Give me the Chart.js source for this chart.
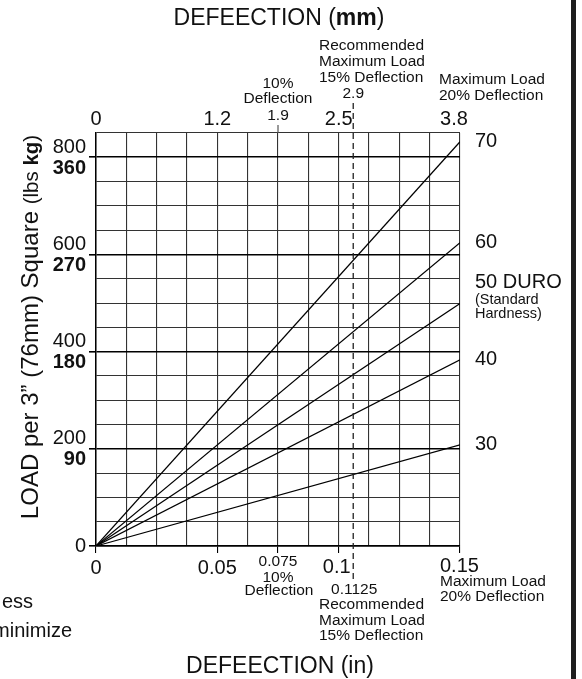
<!DOCTYPE html>
<html>
<head>
<meta charset="utf-8">
<script src="https://cdn.jsdelivr.net/npm/chart.js@4.4.1/dist/chart.umd.min.js"></script>
<style>
  html, body { margin: 0; padding: 0; background: #fff; }
  #wrap { width: 582px; height: 679px; }
</style>
</head>
<body>
<div id="wrap"><canvas id="loadChart" width="582" height="679"></canvas></div>
<script>
// deflection (in) at both ends of each duro line
var deflection = [0, 0.15];
var duro70 = [0, 832];
var duro60 = [0, 624];
var duro50 = [0, 499];
var duro40 = [0, 383];
var duro30 = [0, 208];

var duroLabels = ['70', '60', '50 DURO', '40', '30'];

// bottom axis (in) and top axis (mm)
var inTicks = [0, 0.05, 0.1, 0.15];
var inLabels = ['0', '0.05', '0.1', '0.15'];
var mmTicks = [0, 0.05, 0.1, 0.15];
var mmLabels = ['0', '1.2', '2.5', '3.8'];

// left axis: lbs / kg
var loadTicks = [0, 200, 400, 600, 800];
var lbsLabels = ['0', '200', '400', '600', '800'];
var kgLabels = ['', '90', '180', '270', '360'];

// marker lines
var tenPct = 0.075;
var recommendedLine = 0.106;

var FONT = '"Liberation Sans", Arial, sans-serif';

function isMajorLoad(v) {
    return Math.round(v) % 200 === 0;
}

function isTickIn(v) {
    var r = Math.round(v * 10000);
    return r === 0 || r === 500 || r === 750 || r === 1000 || r === 1500;
}

function txt(ctx, s, x, y, size, align, weight) {
    ctx.font = (weight || 'normal') + ' ' + size + 'px ' + FONT;
    ctx.textAlign = align || 'center';
    ctx.textBaseline = 'middle';
    ctx.fillText(s, x, y);
}

// draws a row of pieces [text, size, weight] centred on x
function mixed(ctx, pieces, x, y) {
    var total = 0;
    pieces.forEach(function (p) {
        ctx.font = p[2] + ' ' + p[1] + 'px ' + FONT;
        p.w = ctx.measureText(p[0]).width;
        total += p.w;
    });
    var cx = x - total / 2;
    pieces.forEach(function (p) {
        ctx.font = p[2] + ' ' + p[1] + 'px ' + FONT;
        ctx.textAlign = 'left';
        ctx.textBaseline = 'alphabetic';
        ctx.fillText(p[0], cx, y);
        cx += p.w;
    });
}

var labelsPlugin = {
    id: 'labelsPlugin',
    afterDraw: function (chart) {
        var ctx = chart.ctx;
        var xs = chart.scales.x;
        var ys = chart.scales.y;
        var area = chart.chartArea;
        ctx.save();
        ctx.fillStyle = '#111';

        // recommended max load (dashed)
        var dx = xs.getPixelForValue(recommendedLine);
        ctx.strokeStyle = '#222';
        ctx.lineWidth = 1.3;
        ctx.setLineDash([6, 4]);
        ctx.beginPath();
        ctx.moveTo(dx, 103);
        ctx.lineTo(dx, 579);
        ctx.stroke();
        ctx.setLineDash([]);

        // small tick above the plot at 10%
        var tx = xs.getPixelForValue(tenPct);
        ctx.strokeStyle = '#555';
        ctx.lineWidth = 1.2;
        ctx.beginPath();
        ctx.moveTo(tx, area.top);
        ctx.lineTo(tx, area.top - 8);
        ctx.stroke();

        // titles
        mixed(ctx, [['DEFEECTION (', 23, 'normal'], ['mm', 23, 'bold'], [')', 23, 'normal']], 279, 25);
        mixed(ctx, [['DEFEECTION (in)', 23, 'normal']], 280, 673);

        // top axis (mm)
        mmTicks.forEach(function (v, i) {
            var x = xs.getPixelForValue(v);
            if (i === mmTicks.length - 1) x -= 6;
            txt(ctx, mmLabels[i], x, 119, 20);
        });
        txt(ctx, '1.9', tx, 116, 15.5);
        txt(ctx, '10%', tx, 84, 15.5);
        txt(ctx, 'Deflection', tx, 99, 15.5);
        txt(ctx, '2.9', dx, 94, 15.5);
        txt(ctx, 'Recommended', 319, 46, 15.5, 'left');
        txt(ctx, 'Maximum Load', 319, 62, 15.5, 'left');
        txt(ctx, '15% Deflection', 319, 78, 15.5, 'left');
        txt(ctx, 'Maximum Load', 439, 80, 15.5, 'left');
        txt(ctx, '20% Deflection', 439, 96, 15.5, 'left');

        // bottom axis (in)
        inTicks.forEach(function (v, i) {
            var x = xs.getPixelForValue(v);
            if (i === 2) txt(ctx, inLabels[i], x - 2, 567, 20);
            else if (i === 3) txt(ctx, inLabels[i], x - 20, 566, 20, 'left');
            else txt(ctx, inLabels[i], x, 568, 20);
        });
        txt(ctx, '0.075', tx, 562, 15.5);
        txt(ctx, '10%', tx, 578, 15.5);
        txt(ctx, 'Deflection', tx + 1, 591, 15.5);
        txt(ctx, '0.1125', dx + 1, 590, 15.5);
        txt(ctx, 'Recommended', 319, 605, 15.5, 'left');
        txt(ctx, 'Maximum Load', 319, 621, 15.5, 'left');
        txt(ctx, '15% Deflection', 319, 636, 15.5, 'left');
        txt(ctx, 'Maximum Load', 440, 582, 15.5, 'left');
        txt(ctx, '20% Deflection', 440, 597, 15.5, 'left');

        // left axis labels
        loadTicks.forEach(function (v, i) {
            var y = ys.getPixelForValue(v);
            if (v === 0) {
                txt(ctx, lbsLabels[i], 86, y, 20, 'right');
                return;
            }
            txt(ctx, lbsLabels[i], 86, y - 10, 20, 'right');
            txt(ctx, kgLabels[i], 86, y + 11, 20, 'right', 'bold');
        });

        // y title
        ctx.save();
        ctx.translate(38, 327);
        ctx.rotate(-Math.PI / 2);
        mixed(ctx, [['LOAD per 3\u201D (76mm) Square ', 24, 'normal'], ['(lbs ', 20.5, 'normal'], ['kg', 20.5, 'bold'], [')', 20.5, 'normal']], 0, 0);
        ctx.restore();

        // duro labels at line ends
        var ends = [duro70, duro60, duro50, duro40, duro30];
        ends.forEach(function (d, i) {
            var y = ys.getPixelForValue(d[d.length - 1]);
            var x = xs.getPixelForValue(deflection[deflection.length - 1]) + 15;
            if (i === 2) {
                txt(ctx, duroLabels[i], x, y - 21, 20, 'left');
                txt(ctx, '(Standard', x, y - 4, 14.5, 'left');
                txt(ctx, 'Hardness)', x, y + 10, 14.5, 'left');
            } else {
                txt(ctx, duroLabels[i], x, y, 20, 'left');
            }
        });

        // cut-off text on the left
        txt(ctx, 'ess', 33, 602, 20, 'right');
        txt(ctx, 'minimize', 72, 631, 20, 'right');

        // frame bar on the right
        ctx.fillStyle = '#1e1e1e';
        ctx.fillRect(571, 0, 5, 679);

        ctx.restore();
    }
};

function mkSet(label, values) {
    return {
        label: label,
        data: deflection.map(function (x, i) { return { x: x, y: values[i] }; }),
        borderColor: '#000',
        borderWidth: 1.2,
        pointRadius: 0,
        fill: false,
        tension: 0
    };
}

var ctx = document.getElementById('loadChart').getContext('2d');
var chart = new Chart(ctx, {
    type: 'line',
    data: {
        datasets: [
            mkSet(duroLabels[0], duro70),
            mkSet(duroLabels[1], duro60),
            mkSet(duroLabels[2], duro50),
            mkSet(duroLabels[3], duro40),
            mkSet(duroLabels[4], duro30)
        ]
    },
    options: {
        responsive: false,
        animation: false,
        layout: {
            padding: { left: 89, right: 122, top: 133, bottom: 126 }
        },
        plugins: {
            legend: { display: false },
            tooltip: { enabled: false }
        },
        scales: {
            x: {
                type: 'linear',
                min: 0,
                max: 0.15,
                ticks: { display: false, stepSize: 0.0125 },
                border: { display: true, color: '#000', width: 1.5 },
                grid: {
                    color: '#333',
                    lineWidth: 1.1,
                    drawTicks: true,
                    tickLength: 7,
                    tickColor: function (c) {
                        return isTickIn(c.tick.value) ? '#000' : 'rgba(0,0,0,0)';
                    }
                }
            },
            y: {
                type: 'linear',
                min: 0,
                max: 850,
                ticks: { display: false, stepSize: 50 },
                border: { display: true, color: '#000', width: 1.5 },
                grid: {
                    color: function (c) {
                        return isMajorLoad(c.tick.value) ? '#000' : '#333';
                    },
                    lineWidth: function (c) {
                        return isMajorLoad(c.tick.value) ? 1.6 : 1.1;
                    },
                    drawTicks: true,
                    tickLength: 7,
                    tickColor: function (c) {
                        return isMajorLoad(c.tick.value) ? '#000' : 'rgba(0,0,0,0)';
                    }
                }
            }
        }
    },
    plugins: [labelsPlugin]
});
</script>
</body>
</html>
